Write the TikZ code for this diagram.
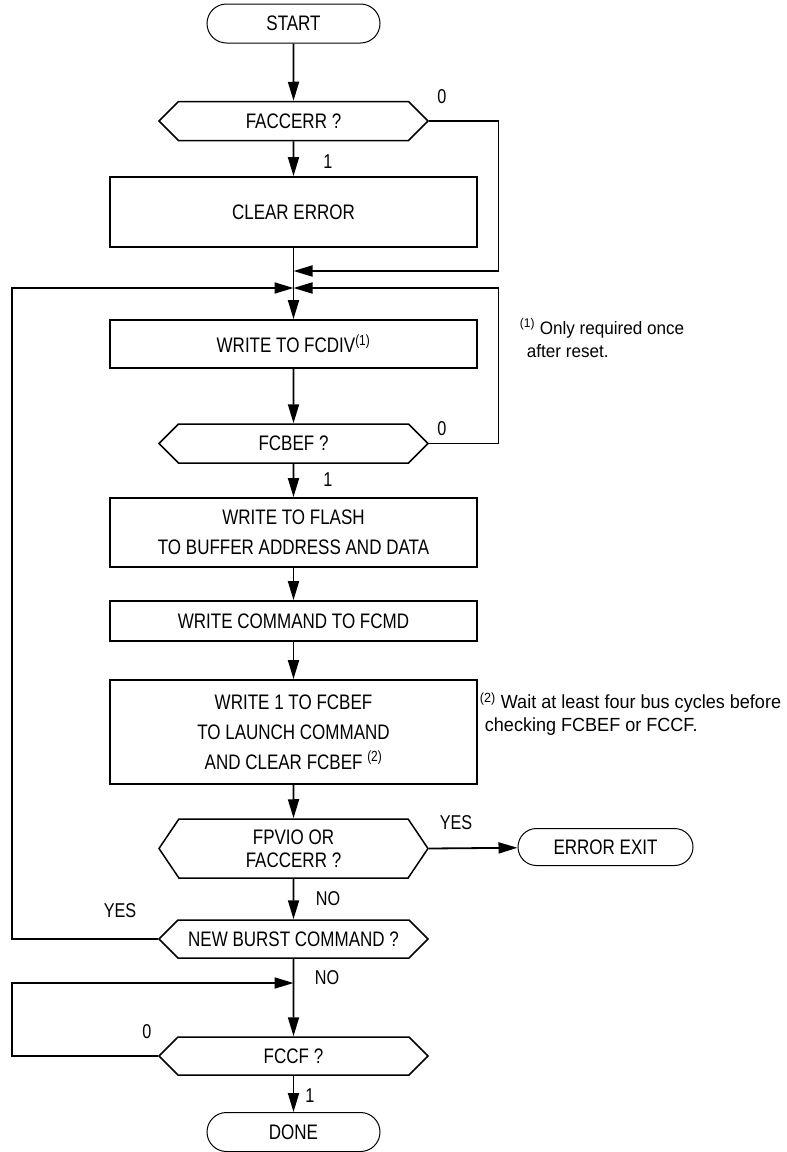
\documentclass[tikz,border=0pt]{standalone}
\usepackage{fontspec}
\setmainfont{Liberation Sans}[FakeStretch=0.81]
\newfontfamily\notefont{Liberation Sans}[FakeStretch=0.95]
\usetikzlibrary{shapes.misc,shapes.symbols,arrows.meta}

\begin{document}
\begin{tikzpicture}[x=1pt,y=-1pt,line width=1.8pt,
  >={Triangle[length=19pt,width=11pt]},
  every node/.style={font=\fontsize{21}{30}\selectfont},
  term/.style={rounded rectangle,draw,line width=1pt,minimum width=173pt,minimum height=39pt,inner sep=0pt},
  proc/.style={rectangle,draw,minimum width=367pt,inner sep=0pt,align=center},
  decision/.style={signal,signal to=west and east,draw,line width=1.5pt,minimum width=269pt,minimum height=39pt,inner sep=0pt,align=center},
  lbl/.style={inner sep=0pt,font=\fontsize{20}{20}\selectfont}]
\useasboundingbox (0,0) rectangle (787,1152);

\node[term] (start) at (293.5,23.5) {START};
\node[decision] (faccerr) at (293.5,121) {FACCERR ?};
\node[proc,minimum height=70pt] (clear) at (293.5,212) {CLEAR ERROR};
\coordinate (m1) at (293.5,271);
\coordinate (m2) at (293.5,288);
\node[proc,minimum height=48pt] (fcdiv) at (293.5,344) {WRITE TO FCDIV\textsuperscript{(1)}};
\node[decision] (fcbef) at (293.5,443.5) {FCBEF ?};
\node[proc,minimum height=69pt] (flash) at (293.5,532.5) {WRITE TO FLASH\\TO BUFFER ADDRESS AND DATA};
\node[proc,minimum height=40pt] (fcmd) at (293.5,621) {WRITE COMMAND TO FCMD};
\node[proc,minimum height=104pt] (launch) at (293.5,732) {WRITE 1 TO FCBEF\\TO LAUNCH COMMAND\\AND CLEAR FCBEF \textsuperscript{(2)}};
\node[decision,minimum height=59pt,signal pointer angle=112,font=\fontsize{21}{23}\selectfont] (fpvio) at (293.5,848.5) {FPVIO OR\\FACCERR ?};
\node[term,minimum height=37pt,minimum width=175pt] (errexit) at (605.5,847) {ERROR EXIT};
\node[decision,minimum height=38pt] (burst) at (293.5,939) {NEW BURST COMMAND ?};
\coordinate (m3) at (293.5,983);
\node[decision,minimum height=38pt] (fccf) at (293.5,1056) {FCCF ?};
\node[term] (done) at (293.5,1132) {DONE};

% main flow
\draw[->] (start) -- (faccerr);
\draw[->] (faccerr) -- (clear);
\draw[->] (clear) -- (fcdiv);
\draw[->] (fcdiv) -- (fcbef);
\draw[->] (fcbef) -- (flash);
\draw[->] (flash) -- (fcmd);
\draw[->] (fcmd) -- (launch);
\draw[->] (launch) -- (fpvio);
\draw[->] (fpvio) -- (burst);
\draw[->] (burst) -- (fccf);
\draw[->] (fccf) -- (done);
\draw[->] (fpvio.east) -- (errexit);

% loops
\draw[->] (faccerr.east) -- ++(69.5,0) |- (m1);
\draw[->] (fcbef.east) -- ++(69.5,0) |- (m2);
\draw[->] (burst.west) -- ++(-146,0) |- (m2);
\draw[->] (fccf.west) -- ++(-146,0) |- (m3);

\node[lbl] (l1) at (442,97) {0};
\node[lbl] (l2) at (328,162) {1};
\node[lbl] (l3) at (442,429) {0};
\node[lbl] (l4) at (328,480) {1};
\node[lbl] (l5) at (456,823) {YES};
\node[lbl] (l6) at (328,899) {NO};
\node[lbl] (l7) at (120,911) {YES};
\node[lbl] (l8) at (327,978) {NO};
\node[lbl] (l9) at (147,1032) {0};
\node[lbl] (l10) at (310,1096) {1};

\node[anchor=west,align=left,inner sep=0pt,font=\notefont\fontsize{18}{23}\selectfont] (note1) at (519,338) {\textsuperscript{(1)} Only required once\\\hspace{7pt}after reset.};
\node[anchor=west,align=left,inner sep=0pt,font=\notefont\fontsize{19}{23}\selectfont] (note2) at (479,714) {\textsuperscript{(2)} Wait at least four bus cycles before\\\hspace{5pt}checking FCBEF or FCCF.};
\end{tikzpicture}
\end{document}
